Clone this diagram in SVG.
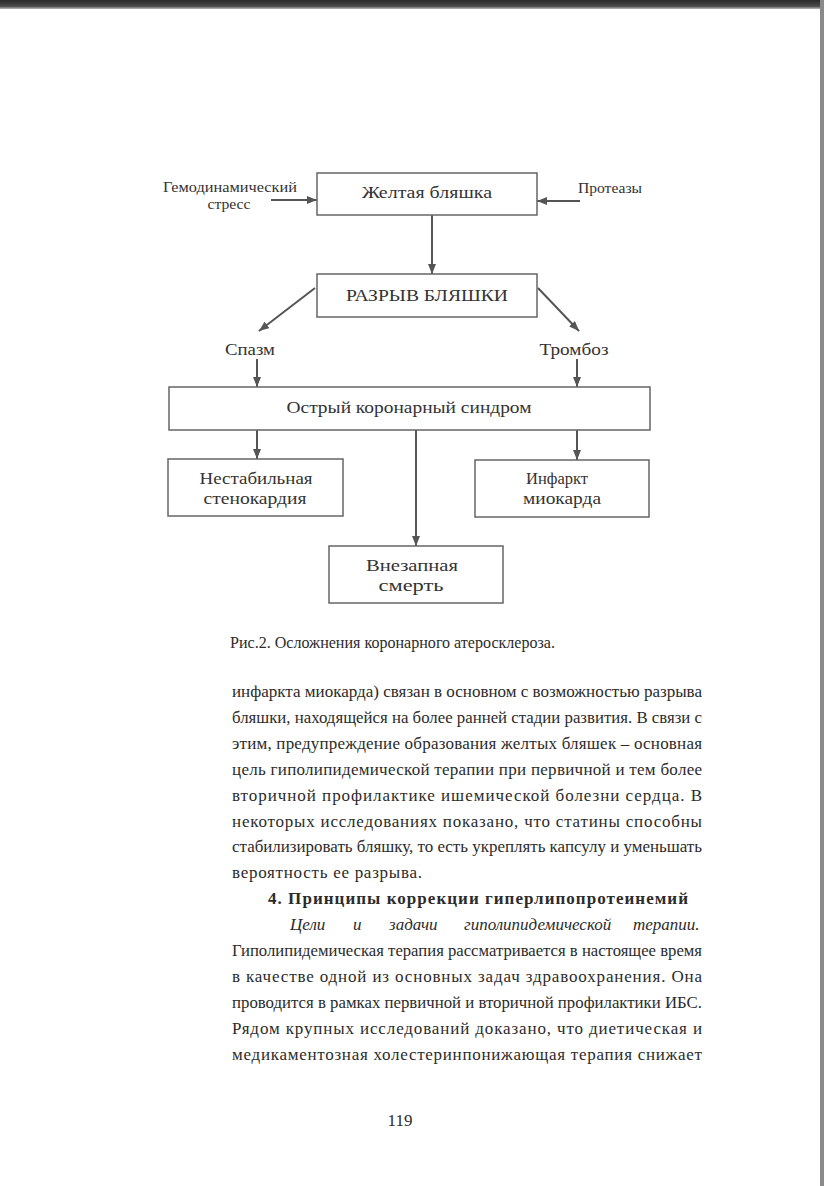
<svg xmlns="http://www.w3.org/2000/svg" width="824" height="1186" viewBox="0 0 824 1186">
<defs>
<marker id="ah" markerUnits="userSpaceOnUse" markerWidth="10" markerHeight="8" viewBox="0 0 10 8" refX="10" refY="4" orient="auto">
<path d="M0,0 L10,4 L0,8 z" fill="#555"/>
</marker>
<linearGradient id="topband" x1="0" y1="0" x2="0" y2="1">
<stop offset="0" stop-color="#2a2a2a"/>
<stop offset="0.7" stop-color="#4a4a4a"/>
<stop offset="1" stop-color="#bdbdbd"/>
</linearGradient>
</defs>
<style>
.box{fill:none;stroke:#666;stroke-width:1.5}
.con{fill:none;stroke:#555;stroke-width:2;marker-end:url(#ah)}
.lbl{font-family:"Liberation Serif","Times New Roman",serif;fill:#333;text-anchor:middle}
.s14{font-size:14px}
.s17{font-size:17px}
.body{font-family:"Liberation Serif","Times New Roman",serif;font-size:17px;fill:#2b2b2b}
.bold{font-weight:bold}
.it{font-style:italic}
</style>
<rect width="824" height="1186" fill="#ffffff"/>
<rect x="0" y="0" width="824" height="9" fill="url(#topband)"/>
<rect x="820" y="0" width="4" height="1186" fill="#8a8a8a"/>

<g id="connectors">
<line class="con" x1="271" y1="200" x2="317" y2="200"/>
<line class="con" x1="580" y1="201" x2="537" y2="201"/>
<line class="con" x1="432" y1="215" x2="432" y2="274"/>
<line class="con" x1="315" y1="288" x2="259" y2="331"/>
<line class="con" x1="538" y1="288" x2="579" y2="331"/>
<line class="con" x1="257" y1="359" x2="257" y2="387"/>
<line class="con" x1="577" y1="359" x2="577" y2="387"/>
<line class="con" x1="257" y1="430" x2="257" y2="459"/>
<line class="con" x1="577" y1="430" x2="577" y2="460"/>
<line class="con" x1="416" y1="430" x2="416" y2="546"/>
</g>

<g id="stress">
<text class="lbl s14" x="230" y="192" textLength="134" lengthAdjust="spacingAndGlyphs">Гемодинамический</text>
<text class="lbl s14" x="229" y="209" textLength="43" lengthAdjust="spacingAndGlyphs">стресс</text>
</g>
<g id="proteases">
<text class="lbl s14" x="610" y="193" textLength="64" lengthAdjust="spacingAndGlyphs">Протеазы</text>
</g>
<g id="yellow-plaque">
<rect class="box" x="317" y="173" width="220" height="42"/>
<text class="lbl s17" x="427" y="198" textLength="130" lengthAdjust="spacingAndGlyphs">Желтая бляшка</text>
</g>
<g id="rupture">
<rect class="box" x="317" y="274" width="220" height="43"/>
<text class="lbl s17" x="427" y="301" textLength="162" lengthAdjust="spacingAndGlyphs">РАЗРЫВ БЛЯШКИ</text>
</g>
<g id="spasm">
<text class="lbl s17" x="250" y="355" textLength="50" lengthAdjust="spacingAndGlyphs">Спазм</text>
</g>
<g id="thrombosis">
<text class="lbl s17" x="574" y="355" textLength="69" lengthAdjust="spacingAndGlyphs">Тромбоз</text>
</g>
<g id="acs">
<rect class="box" x="169" y="387" width="481" height="43"/>
<text class="lbl s17" x="409" y="413" textLength="245" lengthAdjust="spacingAndGlyphs">Острый коронарный синдром</text>
</g>
<g id="unstable-angina">
<rect class="box" x="168" y="459" width="175" height="57"/>
<text class="lbl s17" x="256" y="484" textLength="113" lengthAdjust="spacingAndGlyphs">Нестабильная</text>
<text class="lbl s17" x="255" y="504" textLength="103" lengthAdjust="spacingAndGlyphs">стенокардия</text>
</g>
<g id="mi">
<rect class="box" x="475" y="460" width="174" height="57"/>
<text class="lbl s17" x="557" y="484" textLength="62" lengthAdjust="spacingAndGlyphs">Инфаркт</text>
<text class="lbl s17" x="562" y="504" textLength="78" lengthAdjust="spacingAndGlyphs">миокарда</text>
</g>
<g id="sudden-death">
<rect class="box" x="329" y="546" width="174" height="57"/>
<text class="lbl s17" x="412" y="571" textLength="92" lengthAdjust="spacingAndGlyphs">Внезапная</text>
<text class="lbl s17" x="411" y="591" textLength="65" lengthAdjust="spacingAndGlyphs">смерть</text>
</g>

<g id="page-text">
<text class="body" x="230" y="648" textLength="325" lengthAdjust="spacingAndGlyphs">Рис.2. Осложнения коронарного атеросклероза.</text>
<text class="body" x="232" y="697" textLength="470" lengthAdjust="spacingAndGlyphs">инфаркта миокарда) связан в основном с возможностью разрыва</text>
<text class="body" x="232" y="723" textLength="470" lengthAdjust="spacingAndGlyphs">бляшки, находящейся на более ранней стадии развития. В связи с</text>
<text class="body" x="232" y="749" textLength="470" lengthAdjust="spacing">этим, предупреждение образования желтых бляшек – основная</text>
<text class="body" x="232" y="775" textLength="470" lengthAdjust="spacing">цель гиполипидемической терапии при первичной и тем более</text>
<text class="body" x="232" y="801" textLength="470" lengthAdjust="spacing">вторичной профилактике ишемической болезни сердца. В</text>
<text class="body" x="232" y="827" textLength="470" lengthAdjust="spacing">некоторых исследованиях показано, что статины способны</text>
<text class="body" x="232" y="852" textLength="470" lengthAdjust="spacingAndGlyphs">стабилизировать бляшку, то есть укреплять капсулу и уменьшать</text>
<text class="body" x="232" y="878" textLength="190" lengthAdjust="spacing">вероятность ее разрыва.</text>
<text class="body bold" x="268" y="904" textLength="420" lengthAdjust="spacing">4. Принципы коррекции гиперлипопротеинемий</text>
<text class="body it" y="930"><tspan x="290">Цели</tspan><tspan x="353">и</tspan><tspan x="389">задачи</tspan><tspan x="464">гиполипидемической</tspan><tspan x="633">терапии.</tspan></text>
<text class="body" x="232" y="956" textLength="470" lengthAdjust="spacingAndGlyphs">Гиполипидемическая терапия рассматривается в настоящее время</text>
<text class="body" x="232" y="982" textLength="470" lengthAdjust="spacing">в качестве одной из основных задач здравоохранения. Она</text>
<text class="body" x="232" y="1008" textLength="470" lengthAdjust="spacingAndGlyphs">проводится в рамках первичной и вторичной профилактики ИБС.</text>
<text class="body" x="232" y="1034" textLength="470" lengthAdjust="spacing">Рядом крупных исследований доказано, что диетическая и</text>
<text class="body" x="232" y="1060" textLength="470" lengthAdjust="spacing">медикаментозная холестеринпонижающая терапия снижает</text>
<text class="body" x="400" y="1126" text-anchor="middle">119</text>
</g>
</svg>
